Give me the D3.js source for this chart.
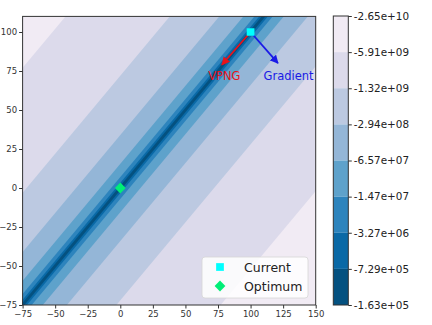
<!DOCTYPE html>
<html>
<head>
<meta charset="utf-8">
<script src="https://cdn.jsdelivr.net/npm/d3@7"></script>
<style>
  body { margin: 0; background: #fff; }
  text { font-family: "DejaVu Sans", sans-serif; }
</style>
</head>
<body>
<script>
// contour levels shown on the colorbar (top = lowest value)
var levelLabels = ["-2.65e+10", "-5.91e+09", "-1.32e+09", "-2.94e+08", "-6.57e+07",
                   "-1.47e+07", "-3.27e+06", "-7.29e+05", "-1.63e+05"];
// |x - y| where the field crosses levels 2..8
var bandEdges = [152, 72, 34, 15.5, 7, 3.3, 1.4];
var bandColors = ["#f1ebf4", "#dcdaeb", "#bcc9e1", "#94b6d7", "#5ea2cb", "#2d84bd", "#0a69a6", "#045180"];

var current = [100, 100];
var optimum = [0, 0];
var vpngEnd = [78, 79];
var gradEnd = [121, 80];
var arrowLabels = [
  {text: "VPNG", pos: [67.5, 69], color: "#e8141c"},
  {text: "Gradient", pos: [110, 69], color: "#1a1ae6"}
];
var xTicks = [-75, -50, -25, 0, 25, 50, 75, 100, 125, 150];
var yTicks = [-75, -50, -25, 0, 25, 50, 75, 100];

var width = 432, height = 325;
var svg = d3.select("body").append("svg")
    .attr("width", width)
    .attr("height", height);

var x = d3.scaleLinear().domain([-75, 150]).range([22.6, 315.7]);
var y = d3.scaleLinear().domain([-75, 110]).range([305, 16.4]);

svg.append("clipPath").attr("id", "plot")
  .append("rect")
    .attr("x", x(-75)).attr("y", y(110))
    .attr("width", x(150) - x(-75)).attr("height", y(-75) - y(110));

var g = svg.append("g").attr("clip-path", "url(#plot)");

// outermost band fills the whole area
g.append("rect")
    .attr("x", x(-75)).attr("y", y(110))
    .attr("width", x(150) - x(-75)).attr("height", y(-75) - y(110))
    .attr("fill", bandColors[0]);

// nested strips around the valley x = y
var e = 1000;
g.selectAll(".band")
  .data(bandEdges)
  .enter().append("path")
    .attr("class", "band")
    .attr("fill", function(d, i){ return bandColors[i + 1]; })
    .attr("d", function(D){
      return d3.line()([
        [x(-e), y(-e - D)], [x(e), y(e - D)],
        [x(e), y(e + D)], [x(-e), y(-e + D)]
      ]) + "Z";
    });

// arrows
var defs = svg.append("defs");
function head(id, color){
  defs.append("marker")
      .attr("id", id)
      .attr("markerUnits", "userSpaceOnUse")
      .attr("viewBox", "0 -5 10 10")
      .attr("refX", 9).attr("refY", 0)
      .attr("markerWidth", 8.5).attr("markerHeight", 8.5)
      .attr("orient", "auto")
    .append("path")
      .attr("d", "M0,-5L10,0L0,5Z")
      .attr("fill", color);
}
head("hr", "#e8141c");
head("hb", "#1a1ae6");

g.append("line")
    .attr("x1", x(current[0])).attr("y1", y(current[1]))
    .attr("x2", x(vpngEnd[0])).attr("y2", y(vpngEnd[1]))
    .attr("stroke", "#e8141c").attr("stroke-width", 1.8)
    .attr("marker-end", "url(#hr)");
g.append("line")
    .attr("x1", x(current[0])).attr("y1", y(current[1]))
    .attr("x2", x(gradEnd[0])).attr("y2", y(gradEnd[1]))
    .attr("stroke", "#1a1ae6").attr("stroke-width", 1.8)
    .attr("marker-end", "url(#hb)");

g.selectAll(".alabel")
  .data(arrowLabels)
  .enter().append("text")
    .attr("x", function(d){ return x(d.pos[0]); })
    .attr("y", function(d){ return y(d.pos[1]); })
    .attr("fill", function(d){ return d.color; })
    .attr("font-size", "11.5px")
    .text(function(d){ return d.text; });

// markers (diamond = square turned 45 degrees, like matplotlib "D")
var sq = d3.symbol().type(d3.symbolSquare).size(60);
var dia = d3.symbol().type(d3.symbolSquare).size(58);
g.append("path")
    .attr("d", sq())
    .attr("transform", "translate(" + x(current[0]) + "," + y(current[1]) + ")")
    .attr("fill", "#00ffff");
g.append("path")
    .attr("d", dia())
    .attr("transform", "translate(" + x(optimum[0]) + "," + y(optimum[1]) + ") rotate(45)")
    .attr("fill", "#00ee77");

// legend
var leg = svg.append("g");
leg.append("rect")
    .attr("x", 202).attr("y", 257).attr("width", 106).attr("height", 41)
    .attr("rx", 3)
    .attr("fill", "#fff").attr("fill-opacity", 0.85)
    .attr("stroke", "#d6d6d6").attr("stroke-width", 0.8);
leg.append("path").attr("d", sq()).attr("transform", "translate(220,267)").attr("fill", "#00ffff");
leg.append("path").attr("d", dia()).attr("transform", "translate(220,286) rotate(45)").attr("fill", "#00ee77");
leg.append("text").attr("x", 244).attr("y", 271.5).attr("font-size", "12.5px").attr("fill", "#222").text("Current");
leg.append("text").attr("x", 244).attr("y", 290.5).attr("font-size", "12.5px").attr("fill", "#222").text("Optimum");

// frame and axes
svg.append("rect")
    .attr("x", x(-75)).attr("y", y(110))
    .attr("width", x(150) - x(-75)).attr("height", y(-75) - y(110))
    .attr("fill", "none").attr("stroke", "#333").attr("stroke-width", 1);

var xAxis = svg.append("g")
    .attr("transform", "translate(0," + y(-75) + ")")
    .call(d3.axisBottom(x).tickValues(xTicks).tickSize(3.5).tickPadding(2));
var yAxis = svg.append("g")
    .attr("transform", "translate(" + x(-75) + ",0)")
    .call(d3.axisLeft(y).tickValues(yTicks).tickSize(3.5).tickPadding(2));
[xAxis, yAxis].forEach(function(a){
  a.select(".domain").remove();
  a.selectAll("line").attr("stroke", "#333");
  a.selectAll("text").attr("font-size", "8.5px").attr("fill", "#333")
    .style("font-family", "'DejaVu Sans', sans-serif");
});

// colorbar
var cb = d3.scaleLinear().domain([0, levelLabels.length - 1]).range([16, 305]);
var cbx = 333.3, cbw = 15;
svg.selectAll(".cbband")
  .data(bandColors)
  .enter().append("rect")
    .attr("x", cbx)
    .attr("y", function(d, i){ return cb(i); })
    .attr("width", cbw)
    .attr("height", function(d, i){ return cb(i + 1) - cb(i); })
    .attr("fill", function(d){ return d; });
svg.append("rect")
    .attr("x", cbx).attr("y", cb(0))
    .attr("width", cbw).attr("height", cb(8) - cb(0))
    .attr("fill", "none").attr("stroke", "#333").attr("stroke-width", 1);
var cbAxis = svg.append("g")
    .attr("transform", "translate(" + (cbx + cbw) + ",0)")
    .call(d3.axisRight(cb).tickValues(d3.range(levelLabels.length))
      .tickFormat(function(i){ return levelLabels[i]; })
      .tickSize(3.5).tickPadding(2));
cbAxis.select(".domain").remove();
cbAxis.selectAll("line").attr("stroke", "#333");
cbAxis.selectAll("text").attr("font-size", "10.4px").attr("fill", "#222")
  .style("font-family", "'DejaVu Sans', sans-serif");
</script>
</body>
</html>
